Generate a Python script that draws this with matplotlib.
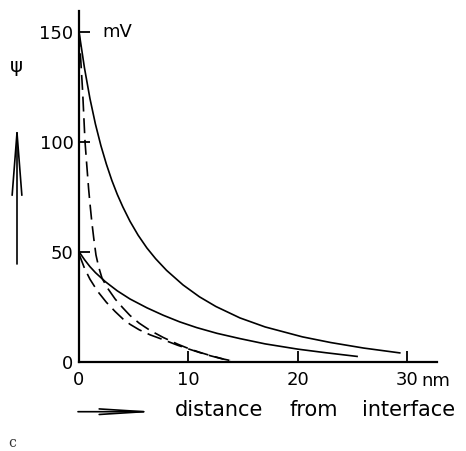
import matplotlib
matplotlib.use("Agg")
import matplotlib.pyplot as plt

# solid curves (psi in mV vs distance in nm)
x_hi = [0, 0.5, 1.0, 1.5, 2.0, 2.5, 3.0, 3.5, 4.0, 4.66, 5.4, 6.2, 7.0, 8.0, 9.5,
        11.0, 12.5, 14.7, 17.0, 20.4, 23.0, 26.0, 29.3]
y_hi = [150, 133.5, 119.6, 108, 98.2, 89.8, 82.4, 76, 70.4, 63.8, 57.5, 51.7, 46.8,
        41.5, 34.9, 29.5, 25.1, 19.9, 15.8, 11.3, 8.7, 6.2, 4.0]

x_lo = [0, 0.5, 1.0, 1.5, 2.4, 3.5, 4.66, 6.2, 7.7, 9.2, 10.75, 12.6, 14.7, 17.0,
        20.0, 22.5, 25.4]
y_lo = [50, 46.4, 43.2, 40.5, 36.4, 32.2, 28.5, 24.5, 21.1, 18.1, 15.5, 12.9, 10.5,
        8.1, 5.7, 4.1, 2.4]

# dashed curves
x_d1 = [0, 0.15, 0.33, 0.55, 0.7, 0.88, 1.0, 1.16, 1.35, 1.55, 1.8, 2.1, 2.6, 3.3,
        4.0, 4.66, 5.5, 6.5, 7.7, 9.0, 10.0, 11.0, 12.0, 13.2, 14.3]
y_d1 = [150, 138, 123, 100, 90, 78.5, 72, 64, 56, 48.5, 43, 38, 33.5, 28.5,
        24.5, 21, 17.5, 14.2, 11, 8, 6, 4.3, 2.8, 1.2, 0]

x_d2 = [0, 0.5, 1.0, 1.7, 2.5, 3.3, 4.0, 4.66, 5.5, 6.5, 7.7, 9.0, 10.0, 11.0,
        12.0, 13.0, 13.8]
y_d2 = [49, 42.5, 37.5, 32, 27, 22.8, 19.5, 17, 14.5, 12.2, 10, 7.5, 5.8, 4.2,
        2.7, 1.4, 0.5]

xticks = [0, 10, 20, 30]
yticks = [0, 50, 100, 150]

fig = plt.figure(figsize=(4.66, 4.51), dpi=100)
ax = fig.add_axes([79 / 466, 1 - 361.7 / 451, (437 - 79) / 466, (361.7 - 11) / 451])

ax.plot(x_hi, y_hi, color="black", lw=1.2)
ax.plot(x_lo, y_lo, color="black", lw=1.2)
ax.plot(x_d1, y_d1, color="black", lw=1.2, dashes=(9, 4))
ax.plot(x_d2, y_d2, color="black", lw=1.2, dashes=(9, 4))

ax.set_xlim(0, 32.7)
ax.set_ylim(0, 159.4)
ax.set_xticks(xticks)
ax.set_yticks(yticks)
ax.tick_params(direction="in", length=8, width=1.3, labelsize=13)
ax.tick_params(axis="x", pad=7)
ax.tick_params(axis="y", pad=4)
for s in ["top", "right"]:
    ax.spines[s].set_visible(False)
for s in ["left", "bottom"]:
    ax.spines[s].set_linewidth(1.6)

# units
ax.text(31.25, -4.6, "nm", fontsize=13, ha="left", va="top")
ax.text(2.1, 150, "mV", fontsize=13, ha="left", va="center")

# axis labels with arrows
fig.text(16 / 466, 1 - 66 / 451, "ψ", fontsize=14, ha="center", va="center")
for word, left in [("distance", 175), ("from", 289), ("interface", 362)]:
    fig.text(left / 466, 1 - 410 / 451, word, fontsize=15, ha="left", va="center")
fig.text(12 / 466, 1 - 443 / 451, "c", fontsize=10, family="serif",
         color="#333333", ha="center", va="center")

ax.annotate("", xy=(17 / 466, 1 - 122 / 451), xytext=(17 / 466, 1 - 264 / 451),
            xycoords="figure fraction", textcoords="figure fraction",
            arrowprops=dict(arrowstyle="->, head_length=4.5, head_width=0.35",
                            color="black", lw=1.2, shrinkA=0, shrinkB=0))
ax.annotate("", xy=(157 / 466, 1 - 411.7 / 451), xytext=(78 / 466, 1 - 411.7 / 451),
            xycoords="figure fraction", textcoords="figure fraction",
            arrowprops=dict(arrowstyle="->, head_length=3.2, head_width=0.2",
                            color="black", lw=1.2, shrinkA=0, shrinkB=0))

fig.savefig("out.png", dpi=100)
